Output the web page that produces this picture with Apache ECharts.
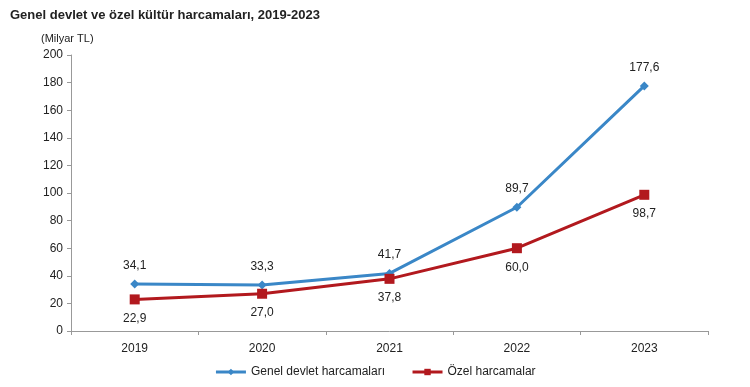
<!DOCTYPE html>
<html><head><meta charset="utf-8">
<script src="https://cdn.jsdelivr.net/npm/echarts@6/dist/echarts.min.js"></script>
<style>html,body{margin:0;padding:0;background:#fff}#c{width:750px;height:387px}</style>
</head><body><div id="c"></div>
<script>
const categories = ['2019','2020','2021','2022','2023'];
const genelDevlet = [34.1, 33.3, 41.7, 89.7, 177.6];
const ozel = [22.9, 27.0, 37.8, 60.0, 98.7];
const seriesNames = ['Genel devlet harcamaları', 'Özel harcamalar'];
const titleText = 'Genel devlet ve özel kültür harcamaları, 2019-2023';
const unitText = '(Milyar TL)';

const fmt = v => v.toFixed(1).replace('.', ',');
const font = 'Liberation Sans, Arial, sans-serif';
const chart = echarts.init(document.getElementById('c'), null, {renderer:'canvas'});
chart.setOption({
  animation: false,
  textStyle: {fontFamily: font},
  title: [
    {text: titleText, left: 5, top: 4, textStyle: {fontSize: 13, fontWeight: 'bold', color: '#222', fontFamily: font}},
    {text: unitText, left: 36, top: 28, textStyle: {fontSize: 11, fontWeight: 'normal', color: '#222', fontFamily: font}}
  ],
  grid: {left: 71, right: 42, top: 55, bottom: 56, containLabel: false},
  legend: {
    bottom: 4, left: 'center', itemGap: 26, itemWidth: 30, itemHeight: 8,
    lineStyle: {width: 3},
    textStyle: {fontSize: 12, color: '#222', fontFamily: font},
    data: seriesNames
  },
  xAxis: {
    type: 'category', data: categories, boundaryGap: true,
    axisLine: {lineStyle: {color: '#999'}},
    axisTick: {show: true, inside: false, length: 4, lineStyle: {color: '#999'}},
    axisLabel: {fontSize: 12, color: '#222', margin: 12, fontFamily: font}
  },
  yAxis: {
    type: 'value', min: 0, max: 200, interval: 20,
    axisLine: {show: true, lineStyle: {color: '#999'}},
    axisTick: {show: true, length: 4, lineStyle: {color: '#999'}},
    splitLine: {show: false},
    axisLabel: {fontSize: 12, color: '#222', margin: 8, fontFamily: font}
  },
  series: [
    {
      name: seriesNames[0], type: 'line', data: genelDevlet,
      symbol: 'diamond', symbolSize: 9,
      lineStyle: {color: '#3A87C7', width: 3},
      itemStyle: {color: '#3A87C7'},
      label: {show: true, position: 'top', distance: 8, fontSize: 12, color: '#222', formatter: p => fmt(p.value)}
    },
    {
      name: seriesNames[1], type: 'line', data: ozel,
      symbol: 'rect', symbolSize: 10,
      lineStyle: {color: '#B2191E', width: 3},
      itemStyle: {color: '#B2191E'},
      label: {show: true, position: 'bottom', distance: 8, fontSize: 12, color: '#222', formatter: p => fmt(p.value)}
    }
  ]
});
</script></body></html>
